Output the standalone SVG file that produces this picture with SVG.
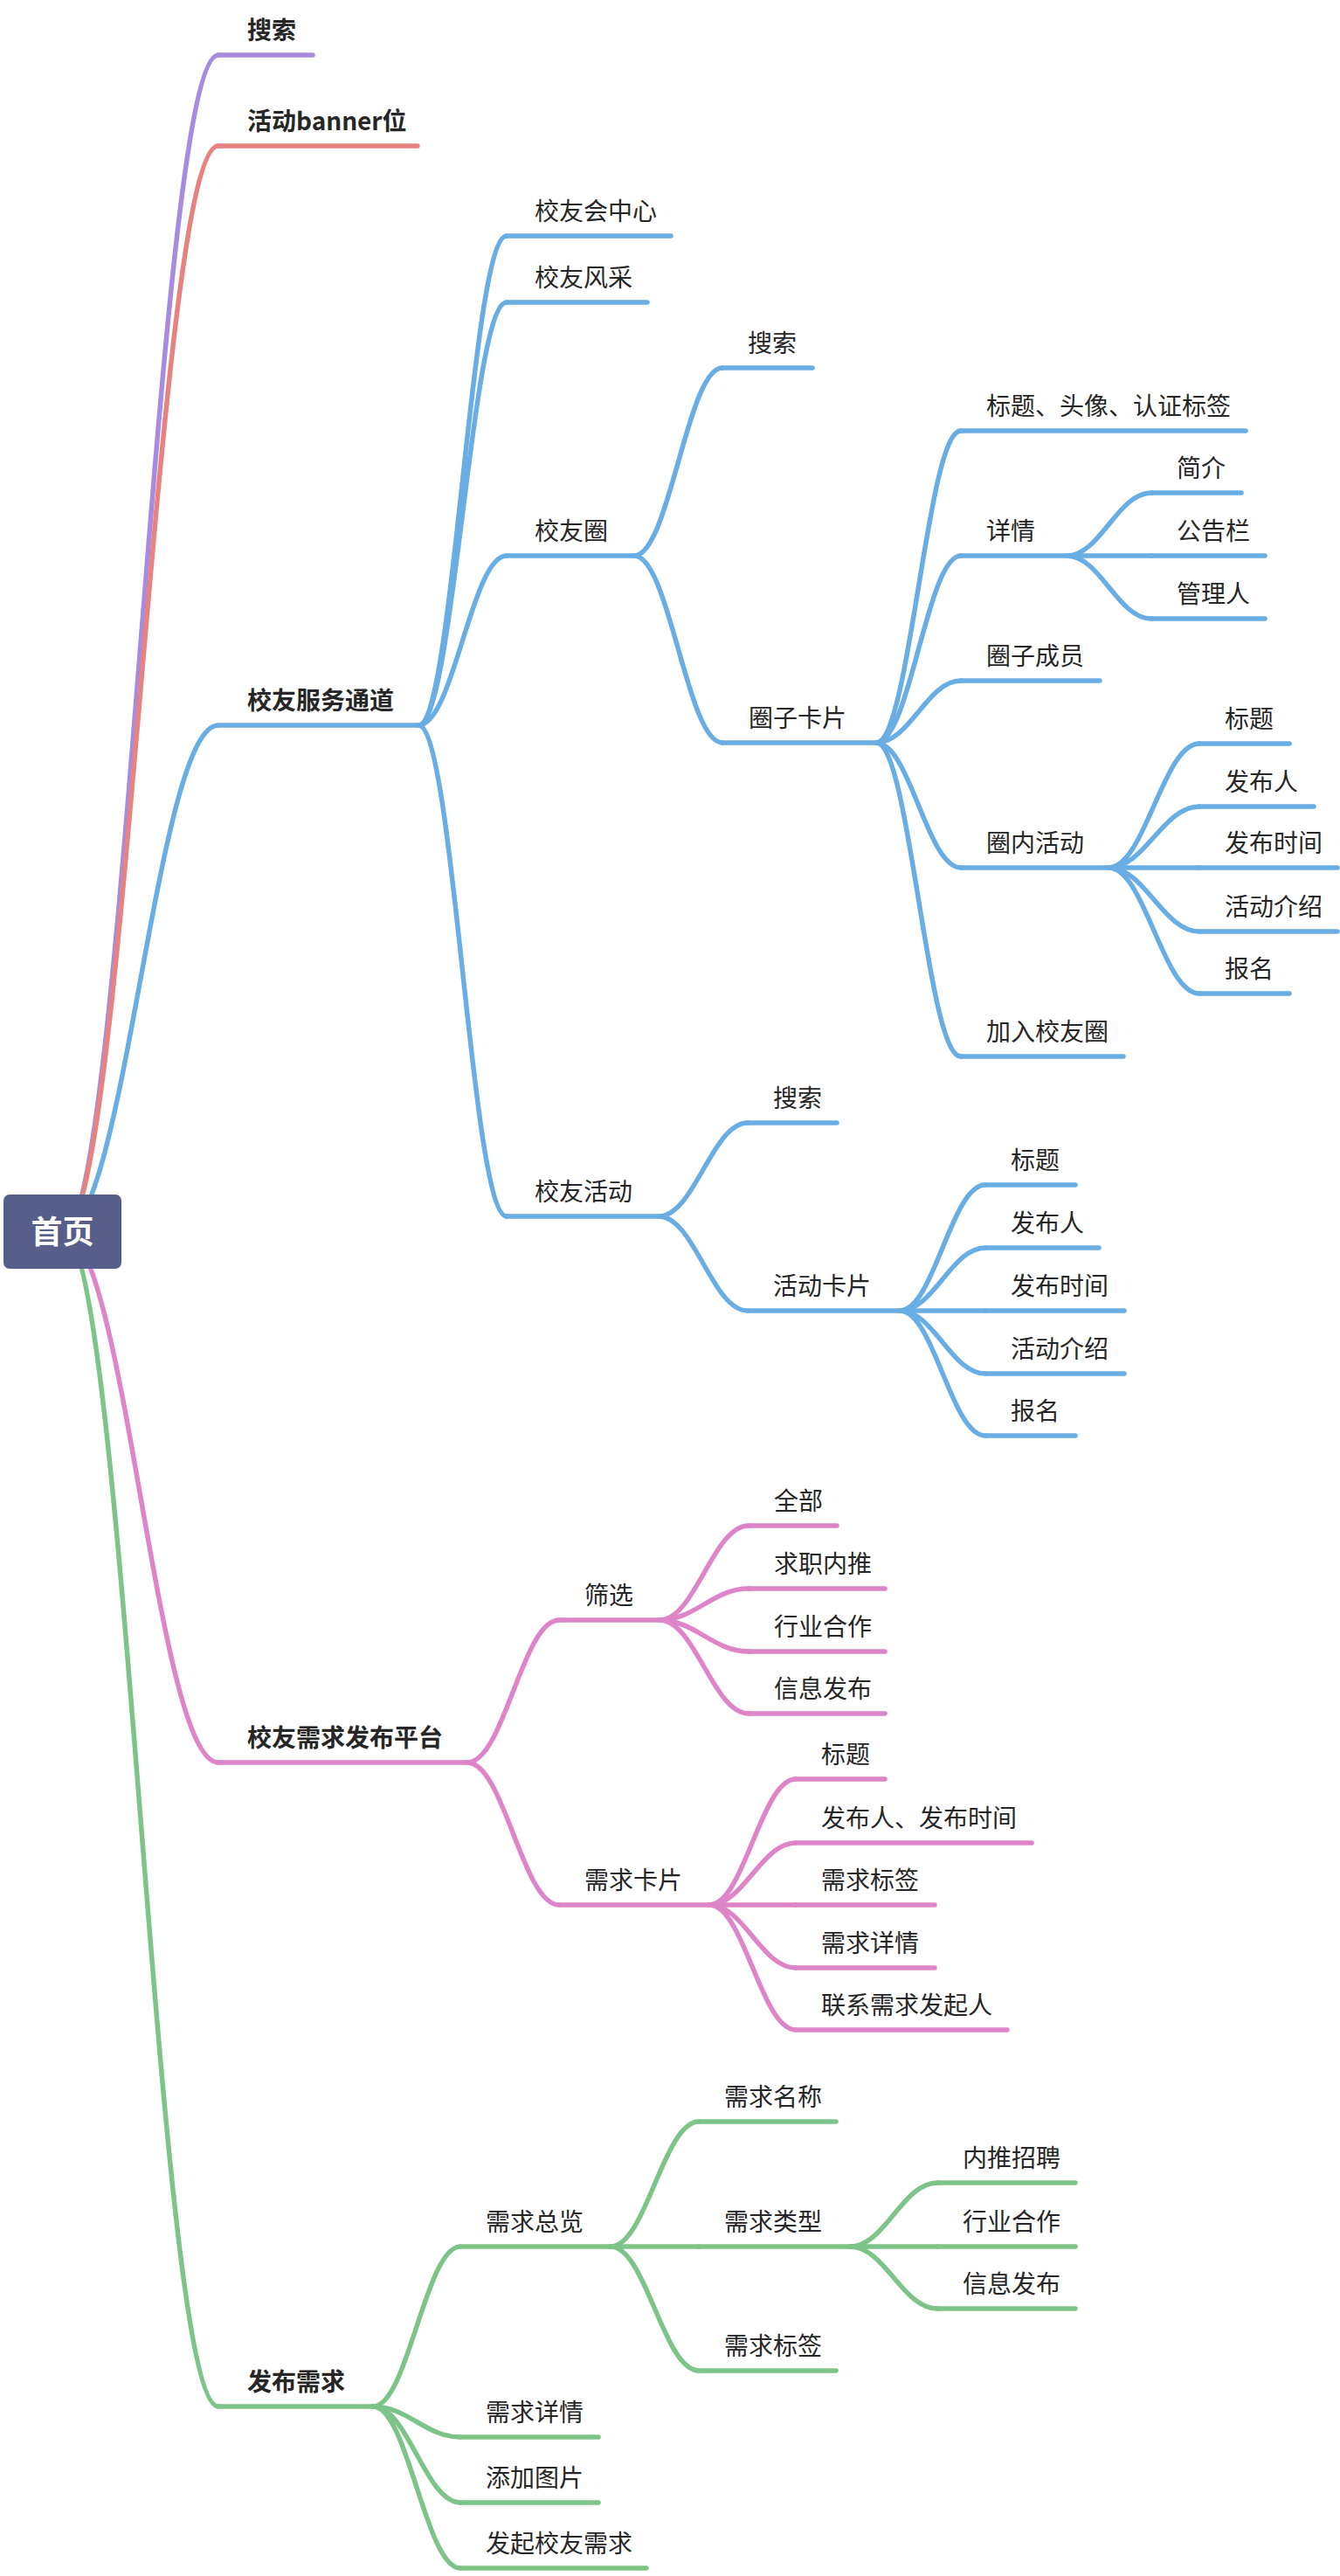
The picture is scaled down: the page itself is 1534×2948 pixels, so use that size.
<svg xmlns="http://www.w3.org/2000/svg" width="1534" height="2948" viewBox="0 0 1534 2948">
<style>
.t{font-family:"Noto Sans CJK SC","Noto Sans",sans-serif;font-size:28px;fill:#262626}
.b{font-weight:700}
.c{fill:none;stroke-width:5.5;stroke-linecap:round}
.pu{stroke:#A68BE0}.rd{stroke:#E8827F}.bl{stroke:#68ADE3}.pk{stroke:#DE84C8}.gr{stroke:#7CC487}
.root{fill:#575E8A}
.rt{font-family:"Noto Sans CJK SC","Noto Sans",sans-serif;font-size:36px;font-weight:700;fill:#ffffff}
</style>
<g id="connectors">
<path class="c pu" d="M72 1410 C143 1410 179 63 250 63"/>
<path class="c rd" d="M72 1410 C143 1410 179 167 250 167"/>
<path class="c bl" d="M72 1410 C143 1410 179 830 250 830"/>
<path class="c pk" d="M72 1410 C143 1410 179 2017 250 2017"/>
<path class="c gr" d="M72 1410 C143 1410 179 2754 250 2754"/>
<path class="c bl" d="M479 830 C519.4 830 539.6 270 580 270"/>
<path class="c bl" d="M479 830 C519.4 830 539.6 346 580 346"/>
<path class="c bl" d="M479 830 C519.4 830 539.6 636 580 636"/>
<path class="c bl" d="M479 830 C519.4 830 539.6 1392 580 1392"/>
<path class="c bl" d="M726 636 C766.4 636 786.6 421 827 421"/>
<path class="c bl" d="M726 636 C766.4 636 786.6 850 827 850"/>
<path class="c bl" d="M1003 850 C1041.8 850 1061.2 493 1100 493"/>
<path class="c bl" d="M1003 850 C1041.8 850 1061.2 636 1100 636"/>
<path class="c bl" d="M1003 850 C1041.8 850 1061.2 779 1100 779"/>
<path class="c bl" d="M1003 850 C1041.8 850 1061.2 993 1100 993"/>
<path class="c bl" d="M1003 850 C1041.8 850 1061.2 1209 1100 1209"/>
<path class="c bl" d="M1221 636 C1259.8 636 1279.2 564 1318 564"/>
<path class="c bl" d="M1221 636 L1318 636"/>
<path class="c bl" d="M1221 636 C1259.8 636 1279.2 708 1318 708"/>
<path class="c bl" d="M1269 993 C1310.6 993 1331.4 851 1373 851"/>
<path class="c bl" d="M1269 993 C1310.6 993 1331.4 923 1373 923"/>
<path class="c bl" d="M1269 993 L1373 993"/>
<path class="c bl" d="M1269 993 C1310.6 993 1331.4 1066 1373 1066"/>
<path class="c bl" d="M1269 993 C1310.6 993 1331.4 1137 1373 1137"/>
<path class="c bl" d="M754 1392 C794.8 1392 815.2 1285 856 1285"/>
<path class="c bl" d="M754 1392 C794.8 1392 815.2 1500 856 1500"/>
<path class="c bl" d="M1030 1500 C1069.2 1500 1088.8 1356 1128 1356"/>
<path class="c bl" d="M1030 1500 C1069.2 1500 1088.8 1428 1128 1428"/>
<path class="c bl" d="M1030 1500 L1128 1500"/>
<path class="c bl" d="M1030 1500 C1069.2 1500 1088.8 1572 1128 1572"/>
<path class="c bl" d="M1030 1500 C1069.2 1500 1088.8 1643 1128 1643"/>
<path class="c pk" d="M535 2017 C577 2017 598 1854 640 1854"/>
<path class="c pk" d="M535 2017 C577 2017 598 2180 640 2180"/>
<path class="c pk" d="M755 1854 C795.8 1854 816.2 1746 857 1746"/>
<path class="c pk" d="M755 1854 C795.8 1854 816.2 1818 857 1818"/>
<path class="c pk" d="M755 1854 C795.8 1854 816.2 1890 857 1890"/>
<path class="c pk" d="M755 1854 C795.8 1854 816.2 1961 857 1961"/>
<path class="c pk" d="M812 2180 C851.6 2180 871.4 2036 911 2036"/>
<path class="c pk" d="M812 2180 C851.6 2180 871.4 2109 911 2109"/>
<path class="c pk" d="M812 2180 L911 2180"/>
<path class="c pk" d="M812 2180 C851.6 2180 871.4 2252 911 2252"/>
<path class="c pk" d="M812 2180 C851.6 2180 871.4 2323 911 2323"/>
<path class="c gr" d="M427 2754 C467 2754 487 2571 527 2571"/>
<path class="c gr" d="M427 2754 C467 2754 487 2789 527 2789"/>
<path class="c gr" d="M427 2754 C467 2754 487 2864 527 2864"/>
<path class="c gr" d="M427 2754 C467 2754 487 2939 527 2939"/>
<path class="c gr" d="M699 2571 C739.4 2571 759.6 2428 800 2428"/>
<path class="c gr" d="M699 2571 L800 2571"/>
<path class="c gr" d="M699 2571 C739.4 2571 759.6 2713 800 2713"/>
<path class="c gr" d="M973 2571 C1013 2571 1033 2498 1073 2498"/>
<path class="c gr" d="M973 2571 L1073 2571"/>
<path class="c gr" d="M973 2571 C1013 2571 1033 2642 1073 2642"/>
</g>
<g id="n-search"><line class="c pu" x1="250" y1="63" x2="358" y2="63"/><text class="t b" x="283" y="45">搜索</text></g>
<g id="n-banner"><line class="c rd" x1="250" y1="167" x2="478" y2="167"/><text class="t b" x="283" y="149">活动banner位</text></g>
<g id="n-service"><line class="c bl" x1="250" y1="830" x2="479" y2="830"/><text class="t b" x="283" y="812">校友服务通道</text></g>
<g id="n-center"><line class="c bl" x1="580" y1="270" x2="768" y2="270"/><text class="t" x="612" y="252">校友会中心</text></g>
<g id="n-style"><line class="c bl" x1="580" y1="346" x2="741" y2="346"/><text class="t" x="612" y="328">校友风采</text></g>
<g id="n-circle"><line class="c bl" x1="580" y1="636" x2="726" y2="636"/><text class="t" x="612" y="618">校友圈</text></g>
<g id="n-circle-search"><line class="c bl" x1="827" y1="421" x2="930" y2="421"/><text class="t" x="856" y="403">搜索</text></g>
<g id="n-circle-card"><line class="c bl" x1="827" y1="850" x2="1003" y2="850"/><text class="t" x="857" y="832">圈子卡片</text></g>
<g id="n-cc-title"><line class="c bl" x1="1100" y1="493" x2="1426" y2="493"/><text class="t" x="1129" y="475">标题、头像、认证标签</text></g>
<g id="n-cc-detail"><line class="c bl" x1="1100" y1="636" x2="1221" y2="636"/><text class="t" x="1129" y="618">详情</text></g>
<g id="n-intro"><line class="c bl" x1="1318" y1="564" x2="1421" y2="564"/><text class="t" x="1347" y="546">简介</text></g>
<g id="n-notice"><line class="c bl" x1="1318" y1="636" x2="1448" y2="636"/><text class="t" x="1347" y="618">公告栏</text></g>
<g id="n-admin"><line class="c bl" x1="1318" y1="708" x2="1448" y2="708"/><text class="t" x="1347" y="690">管理人</text></g>
<g id="n-members"><line class="c bl" x1="1100" y1="779" x2="1259" y2="779"/><text class="t" x="1129" y="761">圈子成员</text></g>
<g id="n-inner-act"><line class="c bl" x1="1100" y1="993" x2="1269" y2="993"/><text class="t" x="1129" y="975">圈内活动</text></g>
<g id="n-ia-title"><line class="c bl" x1="1373" y1="851" x2="1476" y2="851"/><text class="t" x="1402" y="833">标题</text></g>
<g id="n-ia-pub"><line class="c bl" x1="1373" y1="923" x2="1504" y2="923"/><text class="t" x="1402" y="905">发布人</text></g>
<g id="n-ia-time"><line class="c bl" x1="1373" y1="993" x2="1531" y2="993"/><text class="t" x="1402" y="975">发布时间</text></g>
<g id="n-ia-intro"><line class="c bl" x1="1373" y1="1066" x2="1531" y2="1066"/><text class="t" x="1402" y="1048">活动介绍</text></g>
<g id="n-ia-signup"><line class="c bl" x1="1373" y1="1137" x2="1476" y2="1137"/><text class="t" x="1402" y="1119">报名</text></g>
<g id="n-join"><line class="c bl" x1="1100" y1="1209" x2="1286" y2="1209"/><text class="t" x="1129" y="1191">加入校友圈</text></g>
<g id="n-activity"><line class="c bl" x1="580" y1="1392" x2="754" y2="1392"/><text class="t" x="612" y="1374">校友活动</text></g>
<g id="n-act-search"><line class="c bl" x1="856" y1="1285" x2="958" y2="1285"/><text class="t" x="885" y="1267">搜索</text></g>
<g id="n-act-card"><line class="c bl" x1="856" y1="1500" x2="1030" y2="1500"/><text class="t" x="885" y="1482">活动卡片</text></g>
<g id="n-ac-title"><line class="c bl" x1="1128" y1="1356" x2="1231" y2="1356"/><text class="t" x="1157" y="1338">标题</text></g>
<g id="n-ac-pub"><line class="c bl" x1="1128" y1="1428" x2="1258" y2="1428"/><text class="t" x="1157" y="1410">发布人</text></g>
<g id="n-ac-time"><line class="c bl" x1="1128" y1="1500" x2="1287" y2="1500"/><text class="t" x="1157" y="1482">发布时间</text></g>
<g id="n-ac-intro"><line class="c bl" x1="1128" y1="1572" x2="1287" y2="1572"/><text class="t" x="1157" y="1554">活动介绍</text></g>
<g id="n-ac-signup"><line class="c bl" x1="1128" y1="1643" x2="1231" y2="1643"/><text class="t" x="1157" y="1625">报名</text></g>
<g id="n-demand-platform"><line class="c pk" x1="250" y1="2017" x2="535" y2="2017"/><text class="t b" x="283" y="1999">校友需求发布平台</text></g>
<g id="n-filter"><line class="c pk" x1="640" y1="1854" x2="755" y2="1854"/><text class="t" x="669" y="1836">筛选</text></g>
<g id="n-f-all"><line class="c pk" x1="857" y1="1746" x2="958" y2="1746"/><text class="t" x="886" y="1728">全部</text></g>
<g id="n-f-job"><line class="c pk" x1="857" y1="1818" x2="1013" y2="1818"/><text class="t" x="886" y="1800">求职内推</text></g>
<g id="n-f-coop"><line class="c pk" x1="857" y1="1890" x2="1013" y2="1890"/><text class="t" x="886" y="1872">行业合作</text></g>
<g id="n-f-info"><line class="c pk" x1="857" y1="1961" x2="1013" y2="1961"/><text class="t" x="886" y="1943">信息发布</text></g>
<g id="n-demand-card"><line class="c pk" x1="640" y1="2180" x2="812" y2="2180"/><text class="t" x="669" y="2162">需求卡片</text></g>
<g id="n-dc-title"><line class="c pk" x1="911" y1="2036" x2="1013" y2="2036"/><text class="t" x="940" y="2018">标题</text></g>
<g id="n-dc-pub"><line class="c pk" x1="911" y1="2109" x2="1181" y2="2109"/><text class="t" x="940" y="2091">发布人、发布时间</text></g>
<g id="n-dc-tag"><line class="c pk" x1="911" y1="2180" x2="1070" y2="2180"/><text class="t" x="940" y="2162">需求标签</text></g>
<g id="n-dc-detail"><line class="c pk" x1="911" y1="2252" x2="1070" y2="2252"/><text class="t" x="940" y="2234">需求详情</text></g>
<g id="n-dc-contact"><line class="c pk" x1="911" y1="2323" x2="1153" y2="2323"/><text class="t" x="940" y="2305">联系需求发起人</text></g>
<g id="n-publish"><line class="c gr" x1="250" y1="2754" x2="427" y2="2754"/><text class="t b" x="283" y="2736">发布需求</text></g>
<g id="n-overview"><line class="c gr" x1="527" y1="2571" x2="699" y2="2571"/><text class="t" x="556" y="2553">需求总览</text></g>
<g id="n-ov-name"><line class="c gr" x1="800" y1="2428" x2="957" y2="2428"/><text class="t" x="829" y="2410">需求名称</text></g>
<g id="n-ov-type"><line class="c gr" x1="800" y1="2571" x2="973" y2="2571"/><text class="t" x="829" y="2553">需求类型</text></g>
<g id="n-t-recruit"><line class="c gr" x1="1073" y1="2498" x2="1231" y2="2498"/><text class="t" x="1102" y="2480">内推招聘</text></g>
<g id="n-t-coop"><line class="c gr" x1="1073" y1="2571" x2="1231" y2="2571"/><text class="t" x="1102" y="2553">行业合作</text></g>
<g id="n-t-info"><line class="c gr" x1="1073" y1="2642" x2="1231" y2="2642"/><text class="t" x="1102" y="2624">信息发布</text></g>
<g id="n-ov-tag"><line class="c gr" x1="800" y1="2713" x2="957" y2="2713"/><text class="t" x="829" y="2695">需求标签</text></g>
<g id="n-p-detail"><line class="c gr" x1="527" y1="2789" x2="685" y2="2789"/><text class="t" x="556" y="2771">需求详情</text></g>
<g id="n-p-image"><line class="c gr" x1="527" y1="2864" x2="685" y2="2864"/><text class="t" x="556" y="2846">添加图片</text></g>
<g id="n-p-start"><line class="c gr" x1="527" y1="2939" x2="740" y2="2939"/><text class="t" x="556" y="2921">发起校友需求</text></g>
<g id="n-root"><rect class="root" x="4" y="1367" width="135" height="85" rx="7"/><text class="rt" x="71.5" y="1423" text-anchor="middle">首页</text></g>
</svg>
